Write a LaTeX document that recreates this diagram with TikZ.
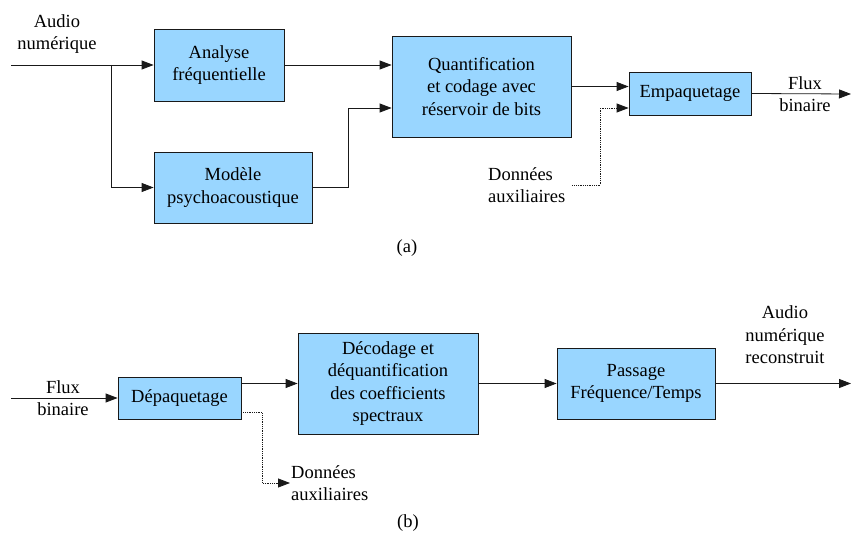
\documentclass[tikz,border=0pt]{standalone}
\usepackage{fontspec}
\setmainfont{Liberation Serif}
\usetikzlibrary{arrows.meta}

\begin{document}
\begin{tikzpicture}[x=1pt, y=-1pt,
	every node/.style={font=\fontsize{18.5}{22.5}\selectfont},
	bloc/.style={draw=black!90, fill=blue!40!cyan!40, line width=0.8pt, align=center, inner sep=0pt},
	lbl/.style={align=center, inner sep=1pt},
	fleche/.style={-{Triangle[length=12pt,width=9pt]}, line width=0.8pt, draw=black!90},
	pointille/.style={fleche, densely dotted}]
\useasboundingbox (0,0) rectangle (851,535);

% (a) codeur
\node[lbl] (audioa) at (57, 34) {Audio\\num\'erique};
\node[bloc, minimum width=130, minimum height=72] (ana) at (219, 65) {Analyse\\fr\'equentielle};
\node[bloc, minimum width=158, minimum height=71] (psy) at (233, 187.5) {Mod\`ele\\psychoacoustique};
\node[bloc, minimum width=179, minimum height=101] (quant) at (481.5, 86.5) {Quantification\\et codage avec\\r\'eservoir de bits};
\node[bloc, minimum width=122, minimum height=43] (emp) at (690, 93.5) {Empaquetage};
\node[lbl, align=left, anchor=west] (auxa) at (487, 185) {Donn\'ees\\auxiliaires};
\node[lbl] (fluxa) at (805, 94) {Flux\\binaire};
\node (soustitrea) at (407, 248) {(a)};
\coordinate (ina) at (11, 65);
\coordinate (split) at (111, 65);
\coordinate (outa) at (851, 94);
\draw[fleche] (ina) -- (ana.west);
\draw[fleche] (split) |- (psy.west);
\draw[fleche] (ana.east) -- (ana.east -| quant.west);
\draw[fleche] (psy.east) -- ++(36,0) |- ([yshift=-21.5pt]quant.west);
\draw[fleche] (quant.east) -- (quant.east -| emp.west);
\draw[pointille] ([xshift=6pt]auxa.east) -- ++(28,0) |- ([yshift=-14.5pt]emp.west);
\draw[fleche] (emp.east) -- (outa);

% (b) decodeur
\node[lbl] (fluxb) at (63, 398) {Flux\\binaire};
\node[bloc, minimum width=123, minimum height=42] (depaq) at (179.5, 398) {D\'epaquetage};
\node[bloc, minimum width=180, minimum height=101] (decod) at (388, 383.5) {D\'ecodage et\\d\'equantification\\des coefficients\\spectraux};
\node[bloc, minimum width=158, minimum height=71] (pass) at (636, 383.5) {Passage\\Fr\'equence/Temps};
\node[lbl, align=left, anchor=west] (auxb) at (290, 483) {Donn\'ees\\auxiliaires};
\node[lbl] (audiob) at (785, 335) {Audio\\num\'erique\\reconstruit};
\node (soustitreb) at (408, 523) {(b)};
\coordinate (inb) at (11, 398);
\coordinate (outb) at (851, 383.5);
\draw[fleche] (inb) -- (depaq.west);
\draw[fleche] (decod.west -| depaq.east) -- (decod.west);
\draw[pointille] ([yshift=-14.7pt]depaq.east) -- ++(21,0) |- (auxb.west);
\draw[fleche] (decod.east) -- (pass.west);
\draw[fleche] (pass.east) -- (outb);

\end{tikzpicture}
\end{document}
